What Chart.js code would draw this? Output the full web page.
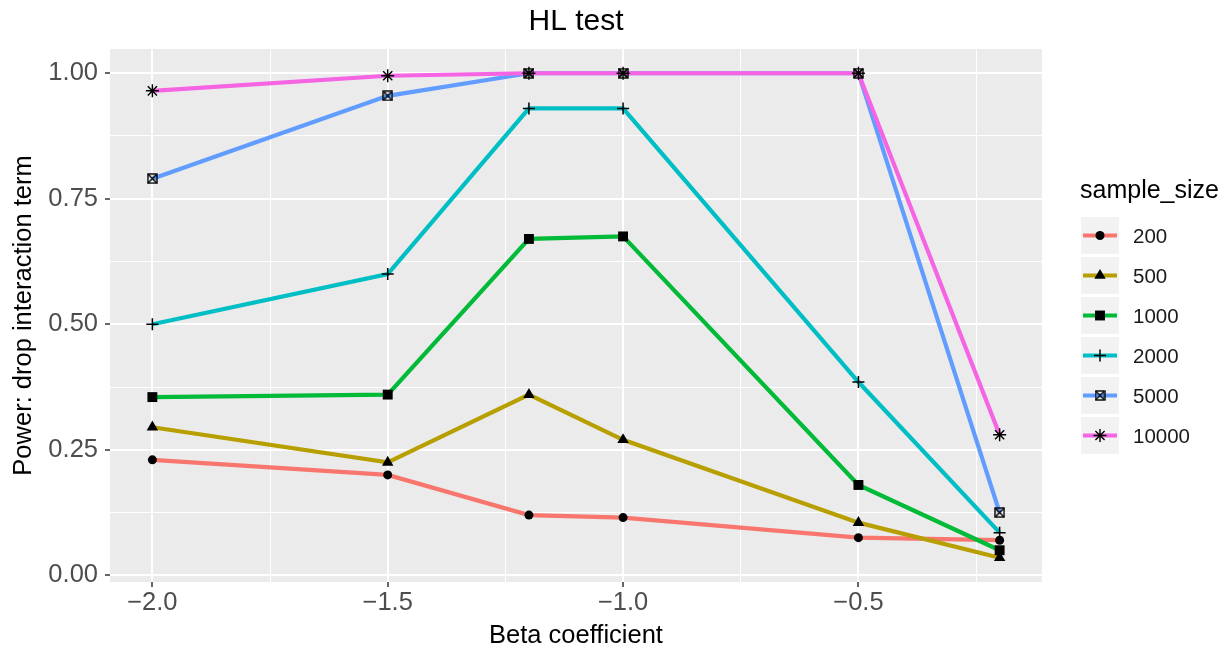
<!DOCTYPE html>
<html>
<head>
<meta charset="utf-8">
<title>HL test</title>
<script src="https://cdn.jsdelivr.net/npm/chart.js@4.4.1/dist/chart.umd.min.js"></script>
<style>
  html, body { margin: 0; padding: 0; background: #ffffff; }
  #wrap { width: 1228px; height: 652px; }
</style>
</head>
<body>
<div id="wrap"><canvas id="powerChart" width="1228" height="652"></canvas></div>
<script>
// beta coefficients on the x axis
const betaValues = [-2.0, -1.5, -1.2, -1.0, -0.5, -0.2];

// power for each sample size
const sampleSizes = ['200', '500', '1000', '2000', '5000', '10000'];
const power200 = [0.23, 0.20, 0.12, 0.115, 0.075, 0.07];
const power500 = [0.295, 0.225, 0.36, 0.27, 0.105, 0.035];
const power1000 = [0.355, 0.36, 0.67, 0.675, 0.18, 0.05];
const power2000 = [0.50, 0.60, 0.93, 0.93, 0.385, 0.085];
const power5000 = [0.79, 0.955, 1.0, 1.0, 1.0, 0.125];
const power10000 = [0.965, 0.995, 1.0, 1.0, 1.0, 0.28];

// axis breaks (labelled) and minor grid positions
const xBreaks = [-2.0, -1.5, -1.0, -0.5];
const xMinor = [-1.75, -1.25, -0.75, -0.25];
const yBreaks = [0, 0.25, 0.5, 0.75, 1.0];
const yMinor = [0.125, 0.375, 0.625, 0.875];

const seriesValues = [power200, power500, power1000, power2000, power5000, power10000];

const FONT = "'Liberation Sans', Arial, Helvetica, sans-serif";
Chart.defaults.font.family = FONT;

const seriesColors = ['#F8766D', '#B79F00', '#00BA38', '#00BFC4', '#619CFF', '#F564E3'];

// square with an x inside, ggplot shape 7
function boxCross(size) {
    const c = document.createElement('canvas');
    c.width = size;
    c.height = size;
    const g = c.getContext('2d');
    g.strokeStyle = '#000';
    g.lineWidth = 1.4;
    const a = 1, b = size - 1;
    g.strokeRect(a, a, b - a, b - a);
    g.beginPath();
    g.moveTo(a, a); g.lineTo(b, b);
    g.moveTo(b, a); g.lineTo(a, b);
    g.stroke();
    return c;
}

const seriesShapes = ['circle', 'triangle', 'rect', 'cross', boxCross(11), 'star'];
const shapeRadius = [4.5, 6.6, 7, 6, 5.5, 6.5];
const shapeBorder = [0, 0, 0, 1.5, 0, 1.4];
const LINE_WIDTH = 4.2;

// ggplot style 5% expansion around the data
function expanded(values) {
    const lo = Math.min(...values), hi = Math.max(...values);
    const pad = (hi - lo) * 0.05;
    return [lo - pad, hi + pad];
}
const xRange = expanded(betaValues);
const yRange = expanded(seriesValues.flat());

function toPoints(vals) {
    return betaValues.map((x, j) => ({ x: x, y: vals[j] }));
}

// lines first, then all markers on top of them
const lineSets = seriesValues.map((vals, i) => ({
    label: sampleSizes[i],
    data: toPoints(vals),
    borderColor: seriesColors[i],
    borderWidth: LINE_WIDTH,
    pointRadius: 0,
    tension: 0,
    order: 12 - i
}));
const pointSets = seriesValues.map((vals, i) => ({
    label: sampleSizes[i] + ' markers',
    data: toPoints(vals),
    showLine: false,
    pointStyle: seriesShapes[i],
    pointRadius: shapeRadius[i],
    pointBackgroundColor: '#000',
    pointBorderColor: '#000',
    pointBorderWidth: shapeBorder[i],
    order: 6 - i
}));

const panelBackground = {
    id: 'panelBackground',
    beforeDraw(chart) {
        const { ctx, chartArea } = chart;
        ctx.save();
        ctx.fillStyle = '#ffffff';
        ctx.fillRect(0, 0, chart.width, chart.height);
        ctx.fillStyle = '#EBEBEB';
        ctx.fillRect(chartArea.left, chartArea.top, chartArea.right - chartArea.left, chartArea.bottom - chartArea.top);
        ctx.restore();
    }
};

// legend on the right: title plus one grey key per sample size
const sideLegend = {
    id: 'sideLegend',
    afterDraw(chart) {
        const { ctx, chartArea } = chart;
        const left = chartArea.right + 39;
        ctx.save();
        ctx.fillStyle = '#000';
        ctx.font = '25px ' + FONT;
        ctx.textAlign = 'left';
        ctx.textBaseline = 'alphabetic';
        ctx.fillText('sample_size', left - 1, 198);

        sampleSizes.forEach((size, i) => {
            const top = 217 + i * 40;
            const cy = top + 18.5;
            ctx.fillStyle = '#F2F2F2';
            ctx.fillRect(left, top, 38, 37);

            ctx.strokeStyle = seriesColors[i];
            ctx.lineWidth = LINE_WIDTH;
            ctx.beginPath();
            ctx.moveTo(left + 2, cy);
            ctx.lineTo(left + 36, cy);
            ctx.stroke();

            ctx.fillStyle = '#000';
            ctx.strokeStyle = '#000';
            ctx.lineWidth = shapeBorder[i];
            Chart.helpers.drawPoint(ctx, {
                pointStyle: seriesShapes[i],
                radius: shapeRadius[i],
                rotation: 0,
                borderWidth: shapeBorder[i]
            }, left + 19, cy);

            ctx.fillStyle = '#1A1A1A';
            ctx.font = '20.5px ' + FONT;
            ctx.textBaseline = 'middle';
            ctx.fillText(size, left + 52, cy + 1.5);
            ctx.textBaseline = 'alphabetic';
            ctx.font = '25px ' + FONT;
        });
        ctx.restore();
    }
};

function tickList(breaks, minor) {
    return breaks.concat(minor).sort((a, b) => a - b).map(v => ({ value: v }));
}

function fmtX(v) {
    const s = Math.abs(v).toFixed(1);
    return v < 0 ? '\u2212' + s : s;
}

const ctx = document.getElementById('powerChart').getContext('2d');
new Chart(ctx, {
    type: 'line',
    data: { datasets: lineSets.concat(pointSets) },
    plugins: [panelBackground, sideLegend],
    options: {
        responsive: false,
        animation: false,
        events: [],
        layout: { padding: { left: 0, top: 0, right: 186, bottom: 0 } },
        plugins: {
            legend: { display: false },
            tooltip: { enabled: false },
            title: {
                display: true,
                text: 'HL test',
                fullSize: false,
                color: '#000',
                font: { size: 30, weight: 'normal' },
                padding: { top: 4, bottom: 9 }
            }
        },
        scales: {
            x: {
                type: 'linear',
                min: xRange[0],
                max: xRange[1],
                afterBuildTicks: scale => { scale.ticks = tickList(xBreaks, xMinor); },
                afterFit: scale => { scale.height = 70; },
                border: { display: false },
                grid: {
                    color: '#ffffff',
                    lineWidth: c => xBreaks.includes(c.tick.value) ? 2 : 1,
                    tickLength: 5,
                    tickWidth: 1.5,
                    tickColor: c => xBreaks.includes(c.tick.value) ? '#333333' : 'rgba(0,0,0,0)'
                },
                ticks: {
                    autoSkip: false,
                    maxRotation: 0,
                    padding: 1,
                    color: '#4D4D4D',
                    font: { size: 25.5 },
                    callback: v => xBreaks.includes(v) ? fmtX(v) : ''
                },
                title: {
                    display: true,
                    text: 'Beta coefficient',
                    color: '#000',
                    font: { size: 25.5 },
                    padding: { top: 0, bottom: 0.5 }
                }
            },
            y: {
                type: 'linear',
                min: yRange[0],
                max: yRange[1],
                afterBuildTicks: scale => { scale.ticks = tickList(yBreaks, yMinor); },
                afterFit: scale => { scale.width = 110; },
                border: { display: false },
                grid: {
                    color: '#ffffff',
                    lineWidth: c => yBreaks.includes(c.tick.value) ? 2 : 1,
                    tickLength: 5,
                    tickWidth: 1.5,
                    tickColor: c => yBreaks.includes(c.tick.value) ? '#333333' : 'rgba(0,0,0,0)'
                },
                ticks: {
                    autoSkip: false,
                    padding: 7,
                    color: '#4D4D4D',
                    font: { size: 25.5 },
                    callback: v => yBreaks.includes(v) ? v.toFixed(2) : ''
                },
                title: {
                    display: true,
                    text: 'Power: drop interaction term',
                    color: '#000',
                    font: { size: 25.5 },
                    padding: { top: 9, bottom: 0 }
                }
            }
        }
    }
});
</script>
</body>
</html>
